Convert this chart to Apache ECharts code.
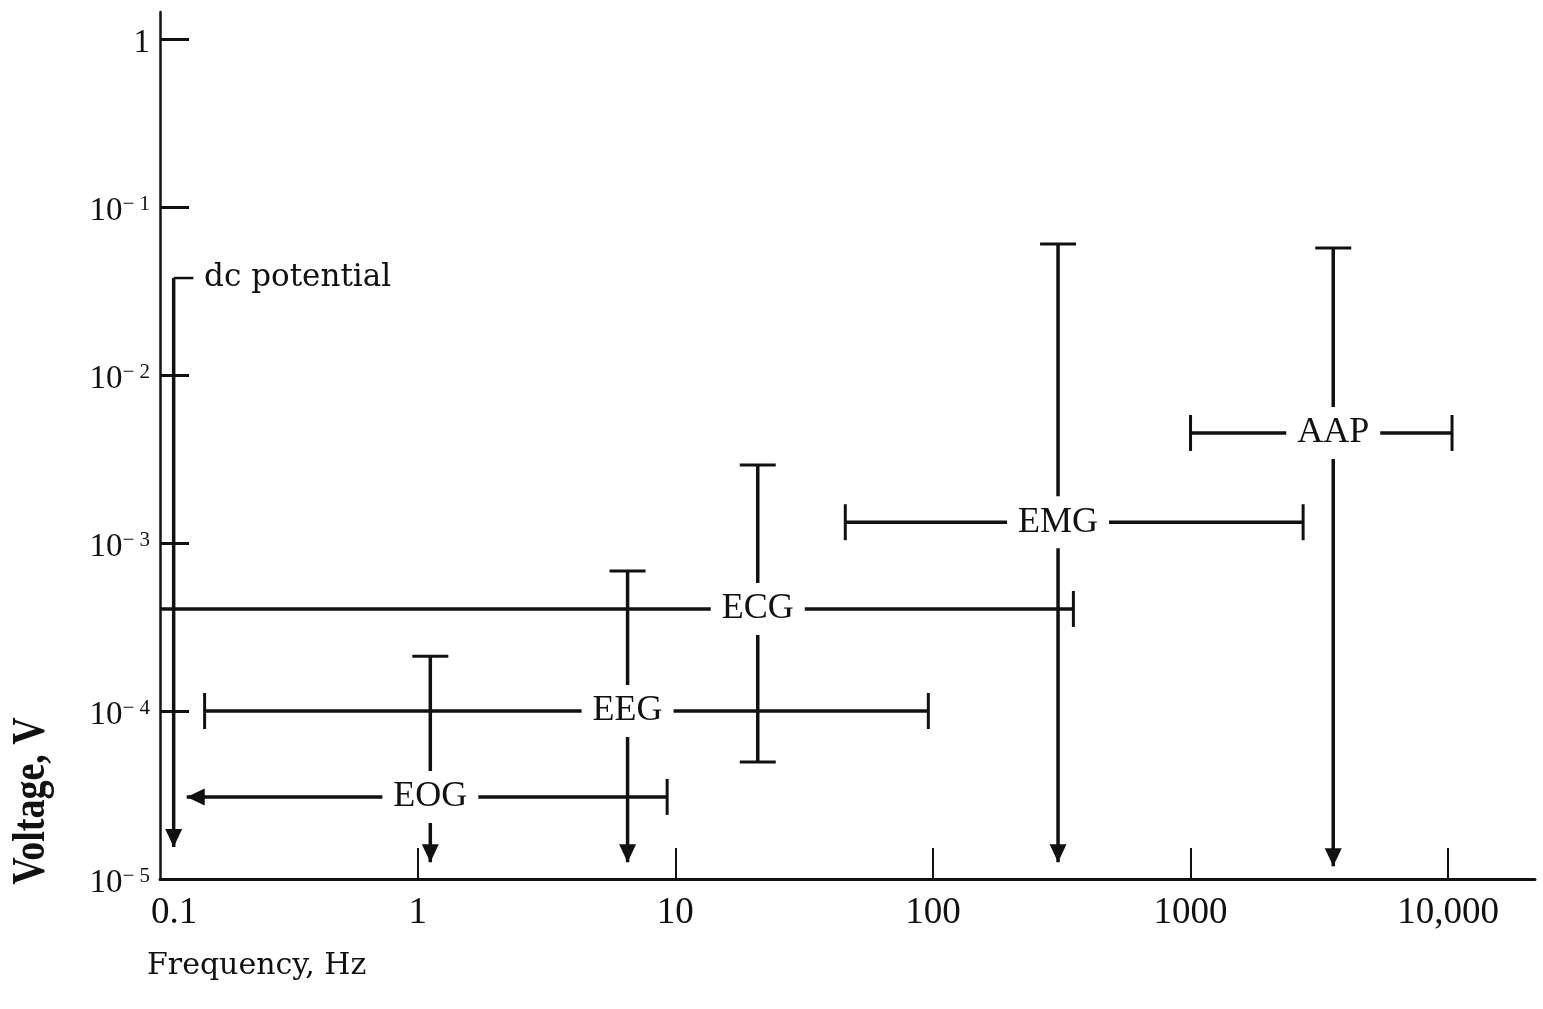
<!DOCTYPE html>
<html>
<head>
<meta charset="utf-8">
<title>Bioelectric signals: voltage vs frequency</title>
<script src="https://cdn.jsdelivr.net/npm/echarts@6/dist/echarts.min.js"></script>
<style>
html, body { margin: 0; padding: 0; background: #fff; }
#container { width: 1543px; height: 1009px; }
</style>
</head>
<body>
<div id="container"></div>
<script>
// values: frequency in Hz, voltage in V
var signalNames = ['EOG', 'EEG', 'ECG', 'EMG', 'AAP'];
// horizontal bar (frequency range) and the voltage it sits at
var freqLow    = [0.127, 0.149, 0.1, 45.7, 1000];
var freqHigh   = [9.3, 96, 351, 2735, 10350];
var freqLowEnd = ['arrow', 'cap', 'open', 'cap', 'cap'];
var voltLevel  = [3.08e-5, 1.0e-4, 4.05e-4, 1.33e-3, 4.52e-3];
// vertical bar (voltage range) and the frequency it sits at
var freqMark   = [1.12, 6.53, 20.9, 306, 3580];
var voltLow    = [1.26e-5, 1.26e-5, 4.97e-5, 1.26e-5, 1.19e-5];
var voltHigh   = [2.12e-4, 6.81e-4, 2.91e-3, 0.0602, 0.057];
var voltLowEnd = ['arrow', 'arrow', 'cap', 'arrow', 'arrow'];

// dc potential
var dcFreq = 0.113;
var dcVolt = [1.55e-5, 0.0378];
var dcLeaderFreq = 0.135;

// ticks, as log10 of the value
var freqTicks = [-1, 0, 1, 2, 3, 4];
var freqTickText = ['0.1', '1', '10', '100', '1000', '10,000'];
var voltTicks = [-5, -4, -3, -2, -1, 0];

var lg = Math.log10;
var INK = '#111';
var SERIF = '"Liberation Serif", "Times New Roman", serif';

function endPoint(f, v, kind, dir) {
    var p = { value: [lg(f), lg(v)], symbol: 'none' };
    if (kind === 'cap') {
        p.symbol = 'rect';
        p.symbolSize = (dir === 'left' || dir === 'right') ? [3, 36] : [36, 3];
    } else if (kind === 'arrow') {
        p.symbol = 'triangle';
        p.symbolSize = [17, 18];
        if (dir === 'down') { p.symbolRotate = 180; p.symbolOffset = [0, -9]; }
        if (dir === 'left') { p.symbolRotate = 90; p.symbolOffset = [9, 0]; }
    }
    return p;
}

function segment(name, a, b, width) {
    return {
        type: 'line',
        name: name,
        data: [a, b],
        clip: false,
        silent: true,
        showSymbol: true,
        lineStyle: { color: INK, width: width || 3.5 },
        itemStyle: { color: INK, borderWidth: 0 },
        emphasis: { disabled: true },
        z: 3
    };
}

var series = [];
signalNames.forEach(function (name, i) {
    series.push(segment(name + ' freq',
        endPoint(freqLow[i], voltLevel[i], freqLowEnd[i], 'left'),
        endPoint(freqHigh[i], voltLevel[i], 'cap', 'right')));
    series.push(segment(name + ' volt',
        endPoint(freqMark[i], voltLow[i], voltLowEnd[i], 'down'),
        endPoint(freqMark[i], voltHigh[i], 'cap', 'up')));
});

// dc potential line and its little leader to the text
series.push(segment('dc',
    endPoint(dcFreq, dcVolt[0], 'arrow', 'down'),
    endPoint(dcFreq, dcVolt[1], 'open', 'up')));
series.push(segment('dc leader',
    endPoint(dcFreq, dcVolt[1], 'open'),
    endPoint(dcLeaderFreq, dcVolt[1], 'open'), 2.5));

// labels sitting on the crossings, white box cuts the lines
series.push({
    type: 'scatter',
    silent: true,
    z: 10,
    symbolSize: 1,
    itemStyle: { color: '#fff', opacity: 1 },
    emphasis: { disabled: true },
    data: signalNames.map(function (n, i) {
        return { name: n, value: [lg(freqMark[i]), lg(voltLevel[i])] };
    }),
    label: {
        show: true,
        position: 'inside',
        formatter: '{b}',
        color: INK,
        opacity: 1,
        fontFamily: SERIF,
        fontSize: 36,
        backgroundColor: '#fff',
        padding: [8, 11]
    }
});
series.push({
    type: 'scatter',
    silent: true,
    z: 10,
    symbolSize: 1,
    itemStyle: { color: '#fff', opacity: 1 },
    emphasis: { disabled: true },
    data: [{ name: 'dc potential', value: [lg(dcLeaderFreq), lg(dcVolt[1])] }],
    label: {
        show: true,
        position: 'right',
        distance: 10,
        formatter: '{b}',
        color: INK,
        opacity: 1,
        fontFamily: '"DejaVu Serif", serif',
        fontSize: 31
    }
});

var myChart = echarts.init(document.getElementById('container'));
var option = {
    animation: false,
    backgroundColor: '#fff',
    grid: { left: 160, right: 8, top: 12, bottom: 130 },
    xAxis: {
        type: 'value',
        min: -1,
        max: 4.337,
        axisLine: { onZero: false, lineStyle: { color: INK, width: 3 } },
        axisTick: {
            show: true, inside: true, length: 31,
            customValues: freqTicks.slice(1),
            lineStyle: { color: INK, width: 2 }
        },
        axisLabel: {
            customValues: freqTicks,
            margin: 16,
            color: INK,
            fontFamily: SERIF,
            fontSize: 37,
            formatter: function (v) {
                var t = freqTickText[freqTicks.indexOf(Math.round(v))];
                return v === -1 ? '{f|' + t + '}' : t;
            },
            rich: {
                f: { fontFamily: SERIF, fontSize: 37, color: INK, padding: [0, 0, 0, 28] }
            }
        },
        splitLine: { show: false }
    },
    yAxis: {
        type: 'value',
        min: -5,
        max: 0.161,
        axisLine: { onZero: false, lineStyle: { color: INK, width: 2.5 } },
        axisTick: {
            show: true, inside: true, length: 29,
            customValues: voltTicks.slice(1),
            lineStyle: { color: INK, width: 3 }
        },
        axisLabel: {
            customValues: voltTicks,
            margin: 10,
            formatter: function (v) {
                if (v === 0) return '{b|1}';
                return '{b|10}{s|\u2212 ' + (-v) + '}';
            },
            rich: {
                b: { fontFamily: SERIF, fontSize: 33, color: INK, padding: [9, 0, 0, 0] },
                s: { fontFamily: SERIF, fontSize: 21, color: INK, verticalAlign: 'top', padding: [8, 0, 0, 0] }
            }
        },
        splitLine: { show: false }
    },
    graphic: [
        {
            type: 'text', left: 147, top: 951, silent: true,
            style: { text: 'Frequency, Hz', font: '30px "DejaVu Serif"', fill: INK }
        },
        {
            type: 'text', x: 32, y: 801, rotation: Math.PI / 2, scaleY: 1.2, silent: true,
            style: {
                text: 'Voltage, V', font: 'bold 38px "Liberation Serif"', fill: INK,
                align: 'center', verticalAlign: 'middle'
            }
        }
    ],
    series: series
};
myChart.setOption(option);
</script>
</body>
</html>
